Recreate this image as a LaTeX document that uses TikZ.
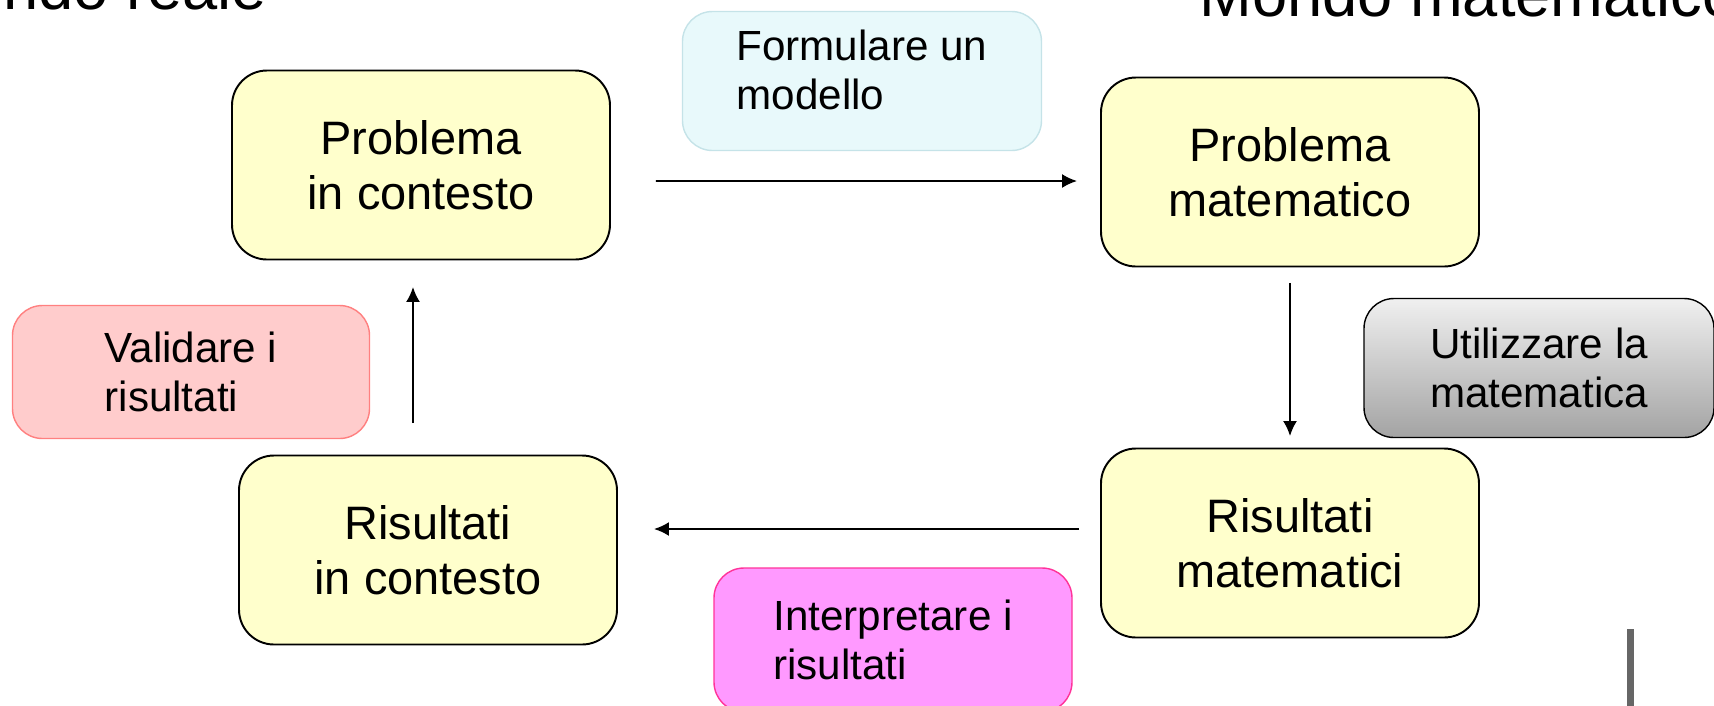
\documentclass[tikz,border=0pt]{standalone}
\usepackage{fontspec}
\setmainfont{Liberation Sans}
\usepackage{tikz}
\usetikzlibrary{arrows.meta}

\definecolor{boxyellow}{HTML}{FFFFCC}
\definecolor{modelfill}{HTML}{E8F9FB}
\definecolor{modeldraw}{HTML}{C5E3E8}
\definecolor{validfill}{HTML}{FFCCCC}
\definecolor{validdraw}{HTML}{FF8080}
\definecolor{interpfill}{HTML}{FF99FF}
\definecolor{interpdraw}{HTML}{FF3399}

\begin{document}
\begin{tikzpicture}[
    bigbox/.style={draw=black, line width=1.1pt, fill=boxyellow,
      rounded corners=0.7cm, minimum width=7.56cm, minimum height=3.78cm,
      align=center, font=\fontsize{26.7}{31.3}\selectfont},
    stepnote/.style={line width=0.8pt, rounded corners=0.6cm,
      minimum width=7.16cm, minimum height=2.78cm,
      font=\fontsize{24}{28}\selectfont},
    flow/.style={line width=1.1pt, -{Latex[length=0.3cm,width=0.28cm]}},
    title/.style={anchor=base west, inner sep=0pt,
      font=\fontsize{36}{43}\selectfont}
  ]
        \useasboundingbox (0, 0) rectangle (34.28, -14.1);
        \clip (0, 0) rectangle (34.28, -14.1);

        % titles
        \node [title] (reale) at (-1.70, -0.18) {Mondo reale};
        \node [title] (matem) at (23.98, -0.32) {Mondo matematico};

        % the four stages
        \node [bigbox] (pic) at (8.42, -3.30) {Problema\\in contesto};
        \node [bigbox] (pmat) at (25.80, -3.44) {Problema\\matematico};
        \node [bigbox] (rmat) at (25.80, -10.86) {Risultati\\matematici};
        \node [bigbox] (ric) at (8.56, -11.00) {Risultati\\in contesto};

        % Formulare
        \node [stepnote, draw=modeldraw, fill=modelfill, align=left,
          minimum width=7.18cm, text depth=0.45cm] (formula) at (17.24, -1.62)
          {Formulare un\\modello};

        % Utilizzare
        \node [stepnote, draw=black, top color=black!6, bottom color=black!36,
          align=center, minimum width=7.0cm] (usa) at (30.78, -7.36)
          {Utilizzare la\\matematica};

        % Validare
        \node [stepnote, draw=validdraw, fill=validfill, align=left,
          minimum width=7.14cm, minimum height=2.66cm] (valida) at (3.82, -7.44)
          {Validare i\\risultati};

        % Interpretare
        \node [stepnote, draw=interpdraw, fill=interpfill, align=left,
          minimum height=2.88cm] (interp) at (17.86, -12.80)
          {Interpretare i\\risultati};

        % the cycle
        \draw [flow] ([xshift=0.9cm, yshift=-0.32cm]pic.east)
          -- ([xshift=-0.46cm, yshift=-0.18cm]pmat.west);
        \draw [flow, shorten <=0.31cm, shorten >=0.23cm] (pmat.south) -- (rmat.north);
        \draw [flow] ([xshift=-0.42cm, yshift=0.28cm]rmat.west)
          -- ([xshift=0.72cm, yshift=0.42cm]ric.east);
        \draw [flow] ([xshift=-0.30cm, yshift=0.63cm]ric.north)
          -- ([xshift=-0.16cm, yshift=-0.53cm]pic.south);

        % bar
        \fill [black!60] (32.54, -12.58) rectangle (32.68, -14.2);

      \end{tikzpicture}
\end{document}
